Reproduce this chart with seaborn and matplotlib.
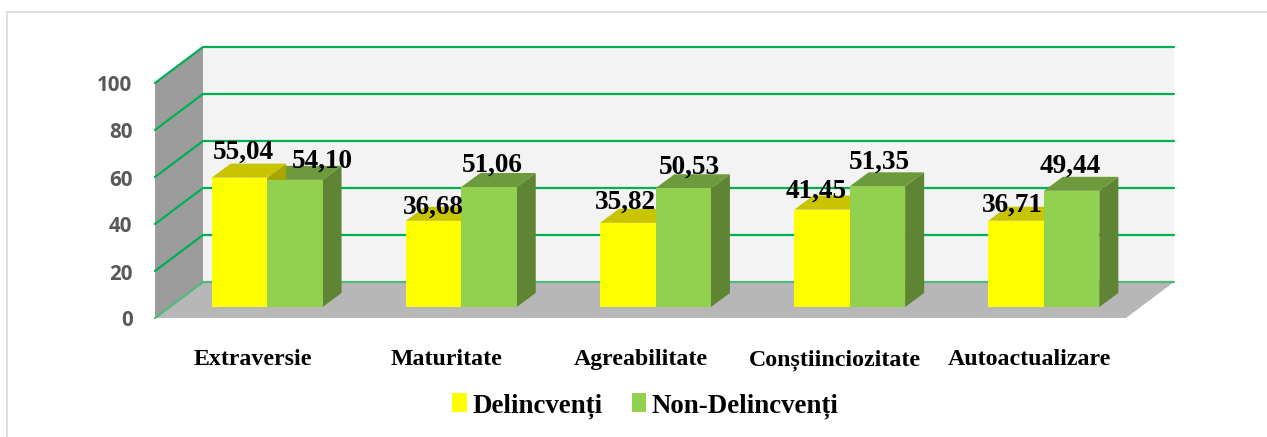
import pandas as pd
import matplotlib
matplotlib.use('Agg')
import matplotlib.pyplot as plt
from matplotlib.patches import Rectangle
from matplotlib.transforms import ScaledTranslation
import seaborn as sns

# valorile din grafic
categorii = ['Extraversie', 'Maturitate', 'Agreabilitate', 'Conștiinciozitate', 'Autoactualizare']
delincventi = [55.04, 36.68, 35.82, 41.45, 36.71]
non_delincventi = [54.10, 51.06, 50.53, 51.35, 49.44]
serii = ['Delincvenți', 'Non-Delincvenți']
repere_y = [0, 20, 40, 60, 80, 100]

W, H = 1267, 437
PX_UNIT = 2.35  # pixeli pe unitate y

# culori: fata, capac, lateral
culori = {'Delincvenți': ('#FFFF00', '#C8C400', '#A8A400'),
          'Non-Delincvenți': ('#92D050', '#6C9A3C', '#5F8434')}
# deplasarea etichetelor fata de capatul barei (pixeli)
nudge_d = [(4, 25), (0, 14), (-2, 21), (-6, 18), (-4, 16)]
nudge_n = [(27, 19), (3, 22), (6, 21), (2, 24), (-1, 25)]

df = pd.DataFrame({
    'categorie': categorii * 2,
    'serie': [serii[0]] * 5 + [serii[1]] * 5,
    'valoare': delincventi + non_delincventi,
})

sns.set_theme(style='white')
plt.rcParams['font.family'] = ['Liberation Serif', 'DejaVu Serif']
plt.rcParams['text.color'] = 'black'

fig = plt.figure(figsize=(W / 100, H / 100), dpi=100)
ax = fig.add_axes([170 / W, (H - 307) / H, 971 / W, 235 / H])
sns.barplot(data=df, x='categorie', y='valoare', hue='serie', hue_order=serii,
            palette={s: culori[s][0] for s in serii}, saturation=1,
            width=0.571, gap=0, legend=False, zorder=10, linewidth=0, ax=ax)
ax.set_xlim(-0.5, 4.5)
ax.set_ylim(0, 100)
PX_X = 971 / 5  # pixeli pe categorie


def pct(x, v, dx=0, dy=0):
    # punct din planul barelor, mutat in adancime cu dx, dy pixeli
    return (x + dx / PX_X, v + dy / PX_UNIT)


def poligon(puncte, culoare, z):
    ax.fill(*zip(*puncte), color=culoare, lw=0, clip_on=False, zorder=z)


FATA = (-15, -11)
SPATE = (33, 25)
x0, x1 = ax.get_xlim()
# peretii si podeaua
poligon([pct(x0, 0, *FATA), pct(x0, 100, *FATA), pct(x0, 100, *SPATE), pct(x0, 0, *SPATE)], '#9C9C9C', 1)
poligon([pct(x0, 0, *SPATE), pct(x0, 100, *SPATE), pct(x1, 100, *SPATE), pct(x1, 0, *SPATE)], '#F3F3F3', 1)
poligon([pct(x0, 0, *FATA), pct(x0, 0, *SPATE), pct(x1, 0, *SPATE), pct(x1, 0, *FATA)], '#B7B7B7', 1)

# liniile de grila
for v in repere_y:
    a, b, c = pct(x0, v, *FATA), pct(x0, v, *SPATE), pct(x1, v, *SPATE)
    ax.plot(*zip(a, b, c), color='#00B050' if v else '#4DBB7A', lw=1.6, clip_on=False, zorder=2,
            solid_joinstyle='miter')

# fetele laterale si capacele barelor
ADANC = (19, 14)
for cont, serie, z in zip(ax.containers, serii, (4, 3)):
    _, capac, lateral = culori[serie]
    for bara in cont:
        st, dr, sus = bara.get_x(), bara.get_x() + bara.get_width(), bara.get_height()
        poligon([pct(dr, 0), pct(dr, 0, *ADANC), pct(dr, sus, *ADANC), pct(dr, sus)], lateral, z)
        poligon([pct(st, sus), pct(st, sus, *ADANC), pct(dr, sus, *ADANC), pct(dr, sus)], capac, z)

# etichetele de valori
for cont, nudge in zip(ax.containers, (nudge_d, nudge_n)):
    for bara, (dx, dy) in zip(cont, nudge):
        ax.annotate(f'{bara.get_height():.2f}'.replace('.', ','),
                    (bara.get_x() + bara.get_width() / 2, bara.get_height()),
                    xytext=(dx * 0.72, dy * 0.72), textcoords='offset points',
                    ha='center', va='center', fontsize=19.6, fontweight='bold',
                    color='black', zorder=20, annotation_clip=False)

sns.despine(ax=ax, left=True, bottom=True)
ax.patch.set_alpha(0)
ax.set_xlabel('')
ax.set_ylabel('')
ax.set_yticks(repere_y)
ax.tick_params(axis='both', length=0)
ax.tick_params(axis='y', pad=27)
ax.tick_params(axis='x', pad=30.5)
coboara = ScaledTranslation(0, -11.5 / 100, fig.dpi_scale_trans)
stanga = ScaledTranslation(-14.5 / 100, 0, fig.dpi_scale_trans)
for t in ax.get_yticklabels():
    t.set_fontfamily(['Open Sans', 'DejaVu Sans'])
    t.set_fontsize(14.8)
    t.set_fontweight('bold')
    t.set_color('#595959')
    t.set_transform(t.get_transform() + coboara)
for t in ax.get_xticklabels():
    t.set_fontsize(17.2)
    t.set_fontweight('bold')
    t.set_color('black')
    t.set_transform(t.get_transform() + stanga)

ax.legend(handles=[c[0] for c in ax.containers], labels=serii, loc='center',
          bbox_to_anchor=(645.5 / W, (H - 406) / H), bbox_transform=fig.transFigure,
          ncol=2, frameon=False, handlelength=0.53, handleheight=0.7, handletextpad=0.2,
          columnspacing=1.11, prop={'size': 19.4, 'weight': 'bold'})

# chenarul
fig.add_artist(Rectangle((6.5 / W, -0.1), 1.2, (H - 11.5) / H + 0.1, transform=fig.transFigure,
                         fill=False, edgecolor='#D9D9D9', lw=1.2, zorder=0))

fig.savefig('out.png', dpi=100)
